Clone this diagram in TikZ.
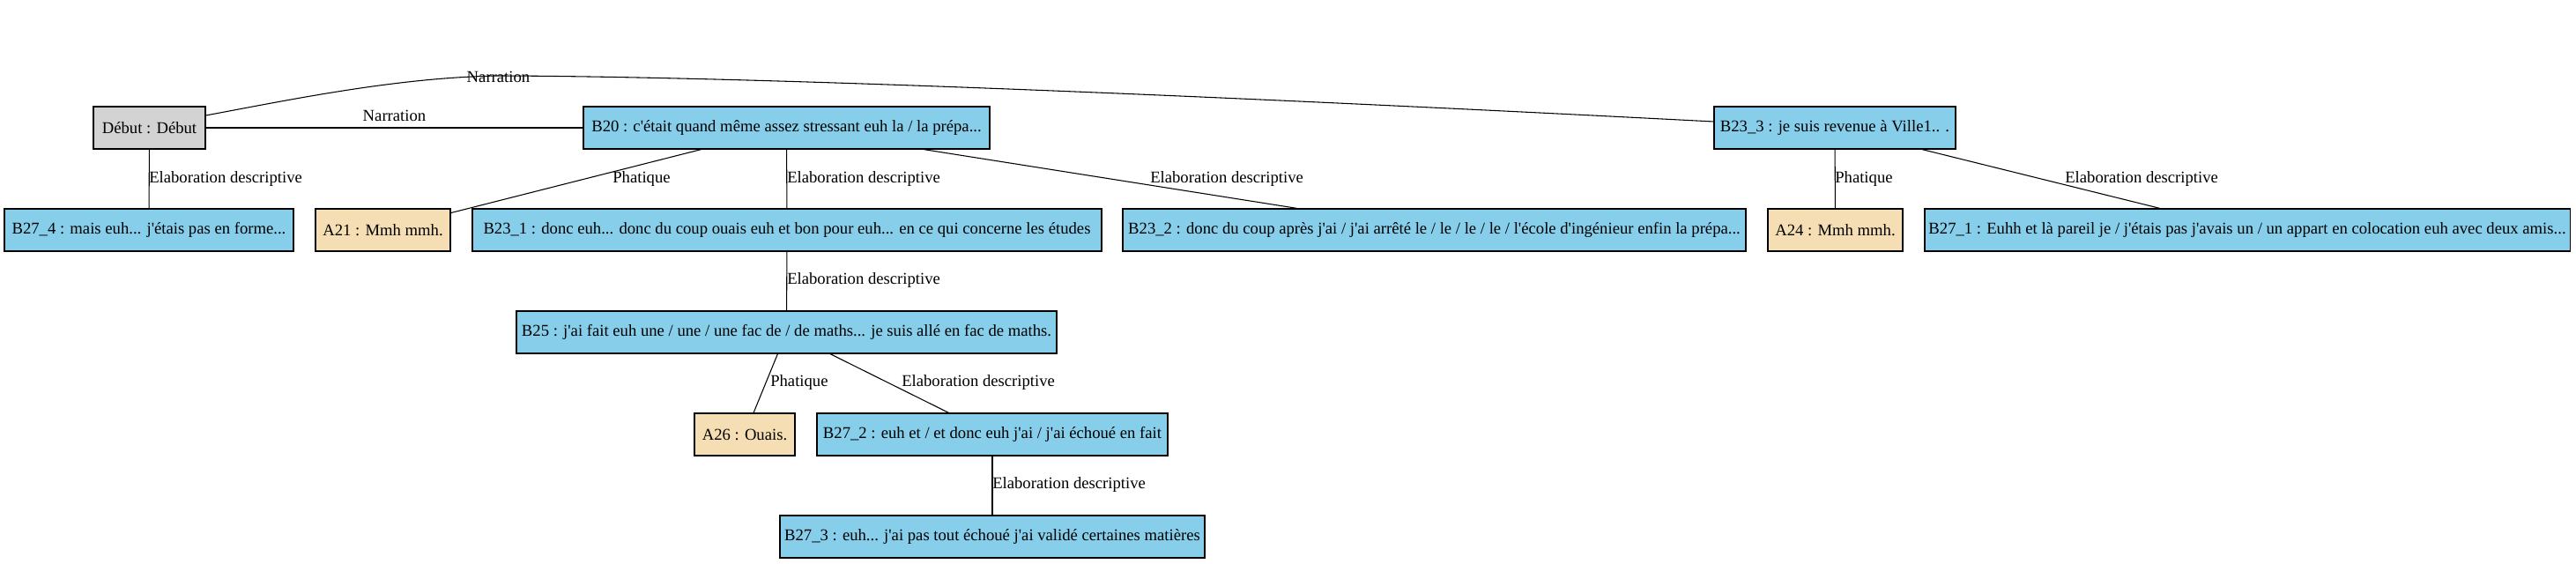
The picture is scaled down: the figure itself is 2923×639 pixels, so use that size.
\documentclass[tikz,border=0pt]{standalone}
\usepackage{fontspec}
\setmainfont{Liberation Serif}[Ligatures=TeXOff]
\definecolor{gvblue}{HTML}{87CEEB}
\definecolor{gvwheat}{HTML}{F5DEB3}
\definecolor{gvgrey}{HTML}{D3D3D3}
\tikzset{
  box/.style={draw=black, line width=0.8pt, rectangle, minimum height=36pt, inner sep=0pt, font=\fontsize{14pt}{16pt}\selectfont},
  bluebox/.style={box, fill=gvblue},
  wheatbox/.style={box, fill=gvwheat},
  greybox/.style={box, fill=gvgrey},
  rel/.style={draw=black, line width=0.8pt},
  lbl/.style={inner sep=0pt, font=\fontsize{14pt}{16pt}\selectfont},
  lblw/.style={lbl, anchor=west},
}
\begin{document}
\begin{tikzpicture}[x=0.75pt,y=-0.75pt]
\useasboundingbox (0,0) rectangle (2923,639);
% row 1
\node[greybox, minimum width=127*0.75pt] (debut) at (169.5,145) {Début : Début};
\node[bluebox, minimum width=461*0.75pt] (b20) at (892.5,145) {B20 : c'était quand même assez stressant euh la / la prépa...};
\node[bluebox, minimum width=274*0.75pt] (b233) at (2082,145) {B23\_3 : je suis revenue à Ville1.. .};
% row 2
\node[bluebox, minimum width=328*0.75pt] (b274) at (169,261) {B27\_4 : mais euh... j'étais pas en forme...};
\node[wheatbox, minimum width=153*0.75pt] (a21) at (434.5,261) {A21 : Mmh mmh.};
\node[bluebox, minimum width=714*0.75pt] (b231) at (893,261) {B23\_1 : donc euh... donc du coup ouais euh et bon pour euh... en ce qui concerne les études};
\node[bluebox, minimum width=707*0.75pt] (b232) at (1627.5,261) {B23\_2 : donc du coup après j'ai / j'ai arrêté le / le / le / le / l'école d'ingénieur enfin la prépa...};
\node[wheatbox, minimum width=153*0.75pt] (a24) at (2082.5,261) {A24 : Mmh mmh.};
\node[bluebox, minimum width=732*0.75pt] (b271) at (2550,261) {B27\_1 : Euhh et là pareil je / j'étais pas j'avais un / un appart en colocation euh avec deux amis...};
% row 3
\node[bluebox, minimum width=613*0.75pt] (b25) at (892.5,377) {B25 : j'ai fait euh une / une / une fac de / de maths... je suis allé en fac de maths.};
% row 4
\node[wheatbox, minimum width=114*0.75pt] (a26) at (845,493) {A26 : Ouais.};
\node[bluebox, minimum width=398*0.75pt] (b272) at (1126,493) {B27\_2 : euh et / et donc euh j'ai / j'ai échoué en fait};
% row 5
\node[bluebox, minimum width=482*0.75pt] (b273) at (1126,609) {B27\_3 : euh... j'ai pas tout échoué j'ai validé certaines matières};
% connectors
\draw[rel] (debut) -- (b20);
\draw[rel] ([yshift=10.5pt]debut.east) .. controls (330,113) and (450,88) .. (565,86) .. controls (900,87) and (1500,115) .. ([yshift=5.25pt]b233.west);
\draw[rel] (debut) -- (b274);
\draw[rel] (b20) -- (a21);
\draw[rel] (b20) -- (b231);
\draw[rel] (b20) -- (b232);
\draw[rel] (b233) -- (a24);
\draw[rel] (b233) -- (b271);
\draw[rel] (b231) -- (b25);
\draw[rel] (b25) -- (a26);
\draw[rel] (b25) -- (b272);
\draw[rel] (b272) -- (b273);
% labels
\node[lbl] (l1) at (447.5,131) {Narration};
\node[lbl] (l2) at (565.5,87) {Narration};
\node[lblw] (l3) at (169,203) {Elaboration descriptive};
\node[lbl] (l4) at (728,203) {Phatique};
\node[lblw] (l5) at (893,203) {Elaboration descriptive};
\node[lblw] (l6) at (1305,203) {Elaboration descriptive};
\node[lblw] (l7) at (2082,203) {Phatique};
\node[lblw] (l8) at (2343,203) {Elaboration descriptive};
\node[lblw] (l9) at (893,318) {Elaboration descriptive};
\node[lblw] (l10) at (874,434) {Phatique};
\node[lblw] (l11) at (1023,434) {Elaboration descriptive};
\node[lblw] (l12) at (1126,550) {Elaboration descriptive};
\end{tikzpicture}
\end{document}
